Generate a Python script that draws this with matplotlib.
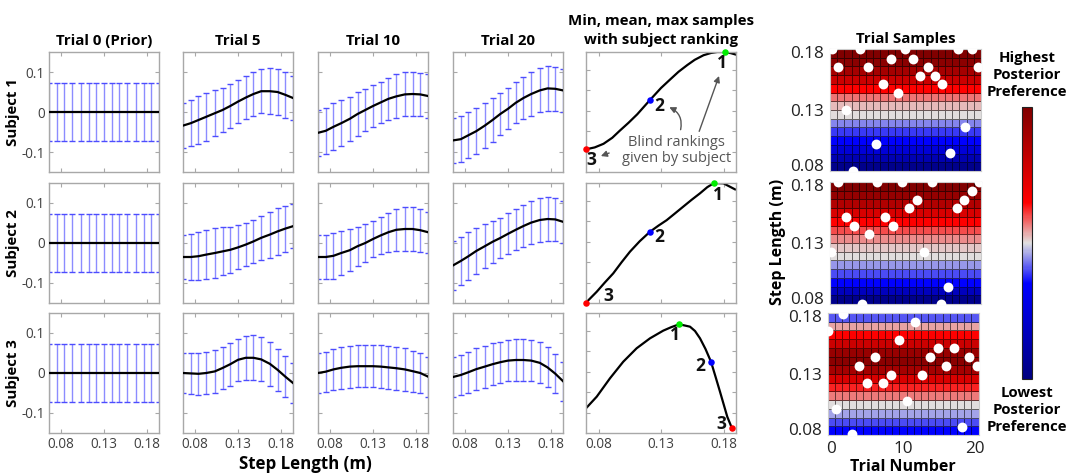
import numpy as np
import matplotlib
matplotlib.use('Agg')
import matplotlib.pyplot as plt
from matplotlib.colors import LinearSegmentedColormap
from matplotlib.transforms import ScaledTranslation
import matplotlib.colorbar as mcolorbar

plt.rcParams['font.family'] = ['Open Sans', 'DejaVu Sans']
plt.rcParams['axes.unicode_minus'] = False

W, H = 1067, 474

# ---------------- data ----------------
step_grid = [0.066, 0.075, 0.084, 0.093, 0.103, 0.112, 0.121, 0.130,
             0.139, 0.148, 0.157, 0.167, 0.176, 0.185, 0.194]
trial_titles = ['Trial 0 (Prior)', 'Trial 5', 'Trial 10', 'Trial 20']
subject_labels = ['Subject 1', 'Subject 2', 'Subject 3']

prior_mean = [0.0] * 15
prior_err = [0.072] * 15

s1_t5_mean = [-0.034, -0.028, -0.020, -0.012, -0.003, 0.005, 0.015, 0.026, 0.036, 0.045, 0.052, 0.052, 0.050, 0.043, 0.035]
s1_t5_err = [0.057, 0.058, 0.060, 0.060, 0.058, 0.055, 0.054, 0.054, 0.054, 0.055, 0.055, 0.058, 0.0575, 0.0575, 0.055]
s1_t10_mean = [-0.052, -0.047, -0.037, -0.028, -0.017, -0.005, 0.005, 0.015, 0.024, 0.033, 0.039, 0.044, 0.045, 0.044, 0.040]
s1_t10_err = [0.057, 0.058, 0.059, 0.0575, 0.055, 0.054, 0.0525, 0.052, 0.052, 0.053, 0.055, 0.055, 0.055, 0.054, 0.054]
s1_t20_mean = [-0.071, -0.068, -0.058, -0.048, -0.034, -0.020, -0.005, 0.008, 0.023, 0.035, 0.045, 0.054, 0.059, 0.058, 0.054]
s1_t20_err = [0.057, 0.058, 0.058, 0.057, 0.056, 0.054, 0.052, 0.051, 0.051, 0.053, 0.055, 0.055, 0.056, 0.055, 0.053]

s2_t5_mean = [-0.035, -0.035, -0.033, -0.029, -0.025, -0.021, -0.017, -0.011, -0.004, 0.004, 0.013, 0.021, 0.029, 0.036, 0.042]
s2_t5_err = [0.055, 0.057, 0.060, 0.061, 0.062, 0.060, 0.0575, 0.055, 0.053, 0.053, 0.055, 0.0575, 0.059, 0.0575, 0.055]
s2_t10_mean = [-0.035, -0.035, -0.032, -0.025, -0.018, -0.008, 0.000, 0.010, 0.019, 0.027, 0.033, 0.035, 0.035, 0.032, 0.027]
s2_t10_err = [0.055, 0.056, 0.058, 0.056, 0.053, 0.049, 0.047, 0.045, 0.047, 0.049, 0.052, 0.055, 0.055, 0.054, 0.051]
s2_t20_mean = [-0.056, -0.045, -0.033, -0.020, -0.008, 0.003, 0.0125, 0.023, 0.033, 0.0425, 0.051, 0.0575, 0.060, 0.059, 0.053]
s2_t20_err = [0.061, 0.060, 0.060, 0.057, 0.055, 0.052, 0.051, 0.051, 0.051, 0.0525, 0.054, 0.054, 0.055, 0.054, 0.0525]

s3_t5_mean = [0.000, -0.001, -0.002, 0.000, 0.004, 0.0125, 0.022, 0.033, 0.038, 0.038, 0.034, 0.023, 0.008, -0.009, -0.025]
s3_t5_err = [0.051, 0.052, 0.053, 0.053, 0.053, 0.053, 0.054, 0.053, 0.055, 0.056, 0.055, 0.055, 0.053, 0.052, 0.051]
s3_t10_mean = [0.000, 0.0033, 0.009, 0.013, 0.016, 0.017, 0.017, 0.017, 0.016, 0.014, 0.012, 0.009, 0.0046, 0.000, -0.009]
s3_t10_err = [0.050, 0.050, 0.051, 0.053, 0.0525, 0.053, 0.053, 0.053, 0.054, 0.054, 0.054, 0.053, 0.051, 0.050, 0.050]
s3_t20_mean = [-0.010, -0.005, 0.002, 0.0096, 0.016, 0.022, 0.027, 0.031, 0.0325, 0.0325, 0.031, 0.0254, 0.014, -0.0017, -0.0204]
s3_t20_err = [0.049, 0.050, 0.051, 0.052, 0.0525, 0.052, 0.051, 0.051, 0.052, 0.052, 0.051, 0.051, 0.050, 0.049, 0.049]

# Min / mean / max sample curves (normalised preference)
curve_s1_x = [0.070, 0.077, 0.084, 0.091, 0.097, 0.104, 0.111, 0.121, 0.130, 0.137, 0.144, 0.151, 0.157, 0.164, 0.170, 0.175, 0.181, 0.186, 0.190]
curve_s1_y = [0.189, 0.205, 0.235, 0.285, 0.344, 0.410, 0.481, 0.598, 0.700, 0.768, 0.835, 0.891, 0.935, 0.973, 0.992, 1.000, 1.000, 0.990, 0.978]
curve_s2_x = [0.070, 0.0786, 0.085, 0.0918, 0.0985, 0.1052, 0.113, 0.1212, 0.128, 0.1345, 0.141, 0.1478, 0.1545, 0.1612, 0.167, 0.1724, 0.180, 0.1892]
curve_s2_y = [0.003, 0.094, 0.170, 0.247, 0.340, 0.428, 0.515, 0.594, 0.645, 0.690, 0.745, 0.803, 0.860, 0.914, 0.965, 1.000, 0.997, 0.947]
curve_s3_x = [0.070, 0.0786, 0.0892, 0.0998, 0.1105, 0.1212, 0.1318, 0.1382, 0.1446, 0.1532, 0.1572, 0.1612, 0.1656, 0.170, 0.1736, 0.1772, 0.183, 0.1866]
curve_s3_y = [0.206, 0.303, 0.456, 0.594, 0.706, 0.789, 0.853, 0.882, 0.906, 0.886, 0.850, 0.789, 0.700, 0.594, 0.470, 0.344, 0.136, 0.044]

# samples: (min, mean, max) step lengths and values, with subject rankings
samp_s1_x = [0.070, 0.1212, 0.1812]
samp_s1_y = [0.189, 0.598, 1.000]
samp_s2_x = [0.070, 0.1212, 0.1724]
samp_s2_y = [0.003, 0.594, 1.000]
samp_s3_x = [0.1866, 0.170, 0.1446]
samp_s3_y = [0.044, 0.594, 0.906]
samp_colors = ['#ff0000', '#0000ff', '#00ee00']
rank_s1 = ['3', '2', '1']
rank_s2 = ['3', '2', '1']
rank_s3 = ['3', '2', '1']

# Heatmap: posterior preference per step-length row (bottom to top)
heat_s1 = [0.035, 0.14, 0.245, 0.35, 0.39, 0.44, 0.50, 0.527, 0.573, 0.65, 0.79, 0.895, 0.965, 1.0]
heat_s2 = [0.035, 0.175, 0.35, 0.40, 0.452, 0.50, 0.517, 0.556, 0.60, 0.65, 0.755, 0.86, 0.94, 1.0]
heat_s3 = [0.35, 0.40, 0.46, 0.50, 0.57, 0.625, 0.755, 0.895, 0.965, 0.93, 0.79, 0.65, 0.54, 0.41]

# trial samples (trial number, step length)
trials_s1 = [-0.27, 0.66, 1.68, 2.74, 3.67, 4.83, 5.85, 6.83, 7.94, 8.91, 9.93, 11.0, 12.02, 13.08, 14.1, 15.12, 16.19, 17.26, 18.28, 19.2, 20.13]
steps_s1 = [0.18, 0.165, 0.13, 0.08, 0.18, 0.165, 0.102, 0.151, 0.172, 0.144, 0.18, 0.172, 0.158, 0.165, 0.158, 0.151, 0.095, 0.18, 0.116, 0.18, 0.165]
trials_s2 = [-0.36, 0.66, 1.72, 2.88, 3.9, 4.97, 6.1, 7.2, 8.3, 9.5, 10.5, 11.6, 12.6, 13.7, 14.9, 15.95, 17.1, 18.2, 19.2, 20.2]
steps_s2 = [0.1227, 0.18, 0.1516, 0.144, 0.08, 0.137, 0.18, 0.1516, 0.144, 0.18, 0.1585, 0.165, 0.1227, 0.18, 0.08, 0.094, 0.1585, 0.165, 0.173, 0.18]
trials_s3 = [-0.39, 0.64, 1.7, 2.87, 3.9, 5.05, 6.12, 7.2, 8.36, 9.47, 10.55, 11.6, 12.7, 13.8, 14.87, 15.98, 17.05, 18.2, 19.2, 20.3]
steps_s3 = [0.1655, 0.101, 0.179, 0.0805, 0.1367, 0.1225, 0.1438, 0.1225, 0.1293, 0.158, 0.108, 0.1726, 0.1293, 0.1438, 0.1512, 0.1367, 0.1512, 0.0868, 0.1438, 0.1367]

n_trials = 21

# ---------------- drawing ----------------
fig = plt.figure(figsize=(W / 100, H / 100), dpi=100)
fig.patch.set_facecolor('white')


def add_ax(l, t, w, h):
    return fig.add_axes([l / W, 1 - (t + h) / H, w / W, h / H])


def shift_labels(labels, offsets_px):
    for lab, dy in zip(labels, offsets_px):
        lab.set_transform(lab.get_transform() + ScaledTranslation(0, dy / 100, fig.dpi_scale_trans))


FRAME = '#a8a8a8'
TXT = '#404040'
TICK_FS = 9.8

means = [[prior_mean, s1_t5_mean, s1_t10_mean, s1_t20_mean],
         [prior_mean, s2_t5_mean, s2_t10_mean, s2_t20_mean],
         [prior_mean, s3_t5_mean, s3_t10_mean, s3_t20_mean]]
errs = [[prior_err, s1_t5_err, s1_t10_err, s1_t20_err],
        [prior_err, s2_t5_err, s2_t10_err, s2_t20_err],
        [prior_err, s3_t5_err, s3_t10_err, s3_t20_err]]

col_left = [49, 183, 318, 453]
row_top = [52, 183, 313]
pw, ph = 110, 120

for r in range(3):
    for c in range(4):
        ax = add_ax(col_left[c], row_top[r], pw, ph)
        eb = ax.errorbar(step_grid, means[r][c], yerr=errs[r][c], fmt='none',
                         ecolor=(0.55, 0.55, 1.0), elinewidth=1.0, capsize=2.5,
                         capthick=1.0, zorder=2)
        for cl in eb[1]:
            cl.set_markeredgecolor((0.3, 0.3, 1.0))
        ax.plot(step_grid, means[r][c], color='black', lw=1.6, zorder=3)
        ax.set_xlim(0.066, 0.194)
        ax.set_ylim(-0.15, 0.15)
        ax.set_xticks([0.08, 0.13, 0.18])
        ax.set_yticks([-0.1, 0, 0.1])
        ax.set_yticklabels(['-0.1', '0', '0.1'])
        ax.set_xticklabels(['0.08', '0.13', '0.18'])
        ax.tick_params(direction='in', length=3, color=FRAME, top=True, right=True,
                       labelsize=TICK_FS, labelcolor=TXT, pad=3)
        if r != 2:
            ax.tick_params(labelbottom=False)
        if c != 0:
            ax.tick_params(labelleft=False)
        for sp in ax.spines.values():
            sp.set_color(FRAME)
            sp.set_linewidth(1.0)
        if r == 0:
            ax.set_title(trial_titles[c], fontsize=10.8, fontweight='bold', pad=5)
        if c == 0:
            ax.set_ylabel(subject_labels[r], fontsize=10.8, fontweight='bold', labelpad=1)

# Column 5: min/mean/max samples
curves = [(curve_s1_x, curve_s1_y), (curve_s2_x, curve_s2_y), (curve_s3_x, curve_s3_y)]
samps = [(samp_s1_x, samp_s1_y, rank_s1), (samp_s2_x, samp_s2_y, rank_s2),
         (samp_s3_x, samp_s3_y, rank_s3)]
rank_offsets = [
    [(0.0046, -0.085), (0.0074, -0.045), (-0.0026, -0.09)],
    [(0.0178, 0.055), (0.0072, -0.045), (0.003, -0.10)],
    [(-0.008, 0.035), (-0.0088, -0.037), (-0.0034, -0.092)],
]
axes5 = []
for r in range(3):
    ax = add_ax(586, row_top[r], 150, ph)
    axes5.append(ax)
    ax.plot(curves[r][0], curves[r][1], color='black', lw=1.6, zorder=2)
    sx, sy, rk = samps[r]
    for i in range(3):
        ax.scatter([sx[i]], [sy[i]], s=22, color=samp_colors[i], zorder=4, clip_on=False,
                   linewidths=0)
        dx, dy = rank_offsets[r][i]
        ax.text(sx[i] + dx, sy[i] + dy, rk[i], fontsize=12.5, fontweight='bold',
                ha='center', va='center', color='#111111')
    ax.set_xlim(0.07, 0.19)
    ax.set_ylim(0, 1.0)
    ax.set_xticks([0.08, 0.13, 0.18])
    ax.set_xticklabels(['0.08', '0.13', '0.18'])
    ax.set_yticks([0.17, 0.34, 0.51, 0.68, 0.85])
    ax.tick_params(direction='in', length=3, color=FRAME, top=True, right=True,
                   labelsize=TICK_FS, labelcolor=TXT, labelleft=False, pad=3)
    if r != 2:
        ax.tick_params(labelbottom=False)
    for sp in ax.spines.values():
        sp.set_color(FRAME)
        sp.set_linewidth(1.0)

axes5[0].set_title('Min, mean, max samples\nwith subject ranking', fontsize=10.8,
                   fontweight='bold', pad=6, linespacing=1.4)
a0 = axes5[0]
a0.text(0.1425, 0.18, 'Blind rankings\ngiven by subject', fontsize=10.5, color='#555555',
        ha='center', va='center', linespacing=1.15)
arrow_kw = dict(arrowstyle='-|>', color='#555555', lw=1.0, mutation_scale=9)
a0.annotate('', xy=(0.0798, 0.125), xytext=(0.0906, 0.166), arrowprops=arrow_kw)
a0.annotate('', xy=(0.1346, 0.549), xytext=(0.1452, 0.33),
            arrowprops=dict(connectionstyle='arc3,rad=0.45', **arrow_kw))
a0.annotate('', xy=(0.1772, 0.822), xytext=(0.1598, 0.317), arrowprops=arrow_kw)

# Heatmaps
cmap = LinearSegmentedColormap.from_list('pref', [
    (0.0, (0.0, 0.0, 0.5)), (0.35, (0.0, 0.0, 1.0)), (0.5, (0.88, 0.88, 0.88)),
    (0.65, (1.0, 0.0, 0.0)), (1.0, (0.5, 0.0, 0.0))])

heats = [heat_s1, heat_s2, heat_s3]
dots = [(trials_s1, steps_s1), (trials_s2, steps_s2), (trials_s3, steps_s3)]
heat_pos = [(830, 49, 151, 122), (830, 182, 151, 122), (827.5, 313, 151, 122)]
x_edges = np.arange(n_trials + 1) - 0.5
y_edges = np.linspace(0.08, 0.18, len(heat_s1) + 1)
hax = []
for r in range(3):
    ax = add_ax(*heat_pos[r])
    hax.append(ax)
    Z = np.tile(np.array(heats[r])[:, None], (1, n_trials))
    ax.pcolormesh(x_edges, y_edges, Z, cmap=cmap, vmin=0, vmax=1,
                  edgecolors=(0, 0, 0, 0.55), linewidth=0.5)
    ax.scatter(dots[r][0], dots[r][1], s=50, color='white', linewidths=0, zorder=3)
    ax.set_xlim(-0.5, 20.5)
    ax.set_ylim(0.08, 0.18)
    ax.set_yticks([0.08, 0.13, 0.18])
    ax.set_yticklabels(['0.08', '0.13', '0.18'])
    ax.set_xticks([0, 10, 20])
    ax.tick_params(length=0, labelsize=12.3, labelcolor='#222222', pad=4)
    if r != 2:
        ax.tick_params(labelbottom=False)
    for sp in ax.spines.values():
        sp.set_color('#cccccc')
        sp.set_linewidth(0.8)
    shift_labels(ax.get_yticklabels(), [6, 0, -3])

hax[0].set_title('Trial Samples', fontsize=10.8, fontweight='bold', pad=4)
hax[2].set_xlabel('Trial Number', fontsize=11.5, fontweight='bold', labelpad=2)

# colorbar
cax = add_ax(1022, 107, 10, 272)
cb = mcolorbar.ColorbarBase(cax, cmap=cmap, orientation='vertical')
cb.set_ticks([])
cb.outline.set_edgecolor('#222222')
cb.outline.set_linewidth(0.8)

fig.text(1027 / W, 1 - 75 / H, 'Highest\nPosterior\nPreference', ha='center', va='center',
         fontsize=10.7, fontweight='bold', linespacing=1.3)
fig.text(1027 / W, 1 - 410 / H, 'Lowest\nPosterior\nPreference', ha='center', va='center',
         fontsize=10.7, fontweight='bold', linespacing=1.3)
fig.text(778 / W, 1 - 242 / H, 'Step Length (m)', ha='center', va='center', rotation=90,
         fontsize=11.5, fontweight='bold')
fig.text(305 / W, 1 - 464 / H, 'Step Length (m)', ha='center', va='center',
         fontsize=12.2, fontweight='bold')

fig.savefig('out.png', dpi=100)
